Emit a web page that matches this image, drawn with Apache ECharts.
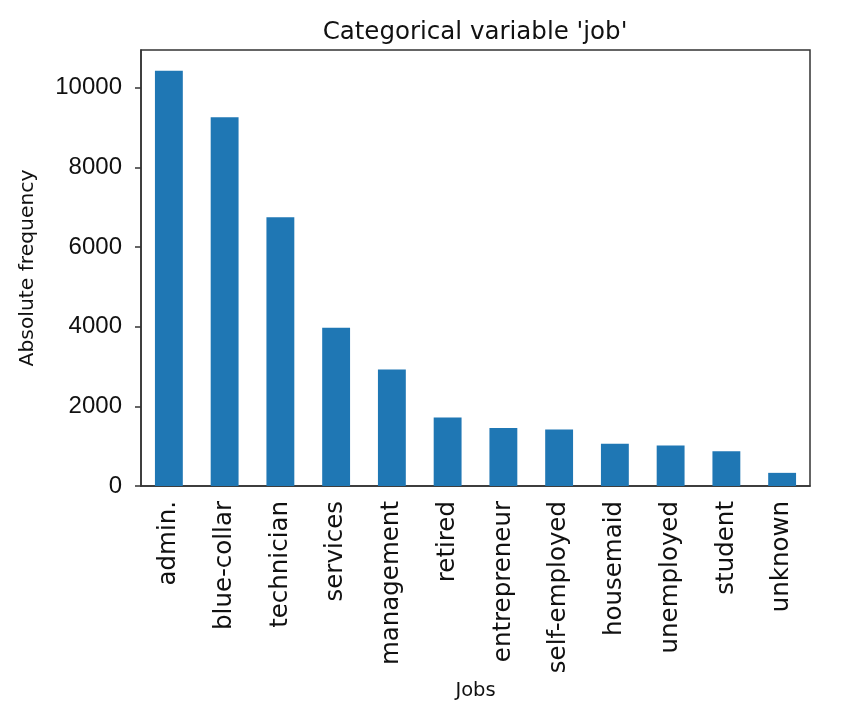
<!DOCTYPE html>
<html>
<head>
<meta charset="utf-8">
<script src="https://cdn.jsdelivr.net/npm/echarts@6/dist/echarts.min.js"></script>
<style>
  html, body { margin: 0; padding: 0; background: #fff; }
  #chart { width: 844px; height: 718px; }
</style>
</head>
<body>
<div id="chart"></div>
<script>
// job counts
var jobs = ['admin.', 'blue-collar', 'technician', 'services', 'management', 'retired',
            'entrepreneur', 'self-employed', 'housemaid', 'unemployed', 'student', 'unknown'];
var counts = [10422, 9254, 6743, 3969, 2924, 1720, 1456, 1421, 1060, 1014, 875, 330];
var yTicks = [0, 2000, 4000, 6000, 8000, 10000];

var myChart = echarts.init(document.getElementById('chart'));

// matplotlib style headroom above the tallest bar
var yMax = Math.max.apply(null, counts) * 1.05;

var option = {
    animation: false,
    title: {
        text: "Categorical variable 'job'",
        left: 470,
        top: 15,
        textAlign: 'center',
        textStyle: {
            fontFamily: 'DejaVu Sans',
            fontSize: 24.5,
            fontWeight: 'normal',
            color: '#111'
        }
    },
    grid: {
        left: 141,
        right: 34,
        top: 50,
        bottom: 232,
        show: true,
        borderColor: '#333',
        borderWidth: 1.5,
        containLabel: false
    },
    xAxis: {
        type: 'category',
        data: jobs,
        name: 'Jobs',
        nameLocation: 'middle',
        nameGap: 189,
        nameTextStyle: {
            fontFamily: 'DejaVu Sans',
            fontSize: 19.5,
            color: '#111'
        },
        axisLine: { lineStyle: { color: '#333', width: 1.5 } },
        axisTick: { alignWithLabel: true, length: 6, lineStyle: { color: '#333', width: 1.5 } },
        axisLabel: {
            rotate: 90,
            interval: 0,
            margin: 15,
            fontFamily: 'DejaVu Sans',
            fontSize: 24.5,
            color: '#111'
        },
        splitLine: { show: false }
    },
    yAxis: {
        type: 'value',
        min: 0,
        max: yMax,
        interval: 2000,
        name: 'Absolute frequency',
        nameLocation: 'middle',
        nameGap: 103,
        nameTextStyle: {
            fontFamily: 'DejaVu Sans',
            fontSize: 20.3,
            color: '#111'
        },
        axisLine: { show: true, lineStyle: { color: '#333', width: 1.5 } },
        axisTick: {
            show: true,
            length: 6,
            customValues: yTicks,
            lineStyle: { color: '#333', width: 1.5 }
        },
        axisLabel: {
            margin: 19,
            customValues: yTicks,
            formatter: function (v) { return String(v); },
            fontFamily: 'Liberation Sans',
            fontSize: 24,
            color: '#111'
        },
        splitLine: { show: false }
    },
    series: [
        {
            type: 'bar',
            data: counts,
            barWidth: '50%',
            itemStyle: { color: '#1f77b4' }
        }
    ]
};

myChart.setOption(option);
</script>
</body>
</html>
